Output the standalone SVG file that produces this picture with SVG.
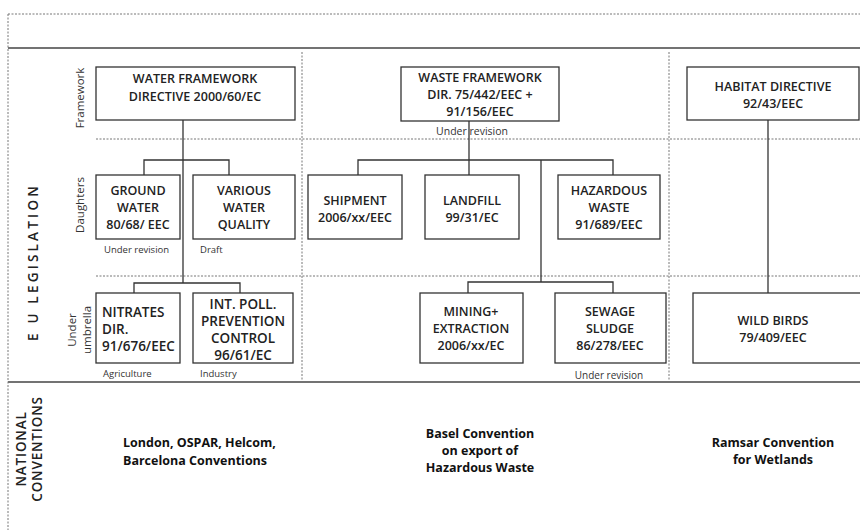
<svg xmlns="http://www.w3.org/2000/svg" width="860" height="531" viewBox="0 0 860 531">
<style>
.bx{fill:#fff;stroke:#333;stroke-width:1.3}
.t{font-family:"Open Sans","Liberation Sans",sans-serif;font-size:12.5px;font-weight:600;fill:#222;text-anchor:middle}
.u{font-family:"Open Sans","Liberation Sans",sans-serif;font-size:13.5px;font-weight:600;fill:#222}
.s{font-family:"Open Sans","Liberation Sans",sans-serif;font-size:9.5px;fill:#333}
.b{font-family:"Open Sans","Liberation Sans",sans-serif;font-size:12.5px;font-weight:700;fill:#111}
.c{stroke:#333;stroke-width:1.3;fill:none}
.dot{stroke:#777;stroke-width:1;stroke-dasharray:2 1.5;fill:none}
.sol{stroke:#444;stroke-width:1.5;fill:none}
.lab{font-family:"Open Sans","Liberation Sans",sans-serif;font-size:11.5px;fill:#333;text-anchor:middle}
.big{font-family:"Open Sans","Liberation Sans",sans-serif;font-size:13.5px;font-weight:600;fill:#222;text-anchor:middle}
</style>
<rect width="860" height="531" fill="#fff"/>
<g id="frame">
<line class="dot" x1="8" y1="14" x2="860" y2="14"/>
<line class="sol" x1="8" y1="48" x2="860" y2="48"/>
<line class="sol" x1="8" y1="382" x2="860" y2="382"/>
<line class="dot" x1="8" y1="14" x2="8" y2="530"/>
<line class="dot" x1="96" y1="139" x2="860" y2="139"/>
<line class="dot" x1="96" y1="276" x2="860" y2="276"/>
<line class="dot" x1="302" y1="52" x2="302" y2="380"/>
<line class="dot" x1="669" y1="52" x2="669" y2="380"/>
<text class="lab" transform="translate(84,98) rotate(-90)">Framework</text>
<text class="lab" transform="translate(84,205) rotate(-90)">Daughters</text>
<text class="lab" transform="translate(76,330) rotate(-90)">Under</text>
<text class="lab" transform="translate(91,330) rotate(-90)">umbrella</text>
<text class="big" transform="translate(38,262) rotate(-90)" style="letter-spacing:3.2px">E U LEGISLATION</text>
<text class="big" transform="translate(26,449) rotate(-90)" style="letter-spacing:0.8px">NATIONAL</text>
<text class="big" transform="translate(42,449) rotate(-90)" style="letter-spacing:0.8px">CONVENTIONS</text>
</g>
<g id="connectors">
<path class="c" d="M183,120 V283"/>
<path class="c" d="M144,175 V160 H229 V175"/>
<path class="c" d="M134,293 V283 H240 V293"/>
<path class="c" d="M469,121 V175"/>
<path class="c" d="M358,175 V160 H613 V175"/>
<path class="c" d="M541,160 V282"/>
<path class="c" d="M468,293 V282 H613 V293"/>
<path class="c" d="M768,120 V293"/>
</g>
<g id="water-framework">
<rect class="bx" x="96" y="67" width="199" height="53"/>
<text class="t" x="195" y="83">WATER FRAMEWORK</text>
<text class="t" x="195" y="101">DIRECTIVE 2000/60/EC</text>
</g>
<g id="ground-water">
<rect class="bx" x="96" y="175" width="84" height="64"/>
<text class="t" x="138" y="195">GROUND</text>
<text class="t" x="138" y="212">WATER</text>
<text class="t" x="138" y="229">80/68/ EEC</text>
<text class="s" x="104" y="253">Under revision</text>
</g>
<g id="various-water">
<rect class="bx" x="193" y="175" width="102" height="64"/>
<text class="t" x="244" y="195">VARIOUS</text>
<text class="t" x="244" y="212">WATER</text>
<text class="t" x="244" y="229">QUALITY</text>
<text class="s" x="200" y="253">Draft</text>
</g>
<g id="nitrates">
<rect class="bx" x="96" y="293" width="84" height="70"/>
<text class="u" x="102" y="317">NITRATES</text>
<text class="u" x="102" y="334">DIR.</text>
<text class="u" x="102" y="351">91/676/EEC</text>
<text class="s" x="103" y="377">Agriculture</text>
</g>
<g id="ippc">
<rect class="bx" x="193" y="293" width="100" height="70"/>
<text class="u" x="243" y="309" text-anchor="middle">INT. POLL.</text>
<text class="u" x="243" y="326" text-anchor="middle">PREVENTION</text>
<text class="u" x="243" y="343" text-anchor="middle">CONTROL</text>
<text class="u" x="243" y="360" text-anchor="middle">96/61/EC</text>
<text class="s" x="200" y="377">Industry</text>
</g>
<g id="waste-framework">
<rect class="bx" x="401" y="67" width="158" height="54"/>
<text class="t" x="480" y="82">WASTE FRAMEWORK</text>
<text class="t" x="480" y="99">DIR. 75/442/EEC +</text>
<text class="t" x="480" y="116">91/156/EEC</text>
<text class="s" x="472" y="135" style="text-anchor:middle;font-size:10.5px">Under revision</text>
</g>
<g id="shipment">
<rect class="bx" x="308" y="175" width="94" height="64"/>
<text class="t" x="355" y="205">SHIPMENT</text>
<text class="t" x="355" y="222">2006/xx/EEC</text>
</g>
<g id="landfill">
<rect class="bx" x="425" y="175" width="94" height="64"/>
<text class="t" x="472" y="205">LANDFILL</text>
<text class="t" x="472" y="222">99/31/EC</text>
</g>
<g id="hazardous">
<rect class="bx" x="558" y="175" width="102" height="64"/>
<text class="t" x="609" y="195">HAZARDOUS</text>
<text class="t" x="609" y="212">WASTE</text>
<text class="t" x="609" y="229">91/689/EEC</text>
</g>
<g id="mining">
<rect class="bx" x="420" y="293" width="103" height="70"/>
<text class="t" x="471" y="316">MINING+</text>
<text class="t" x="471" y="333">EXTRACTION</text>
<text class="t" x="471" y="350">2006/xx/EC</text>
</g>
<g id="sewage">
<rect class="bx" x="555" y="293" width="111" height="70"/>
<text class="t" x="610" y="316">SEWAGE</text>
<text class="t" x="610" y="333">SLUDGE</text>
<text class="t" x="610" y="350">86/278/EEC</text>
<text class="s" x="609" y="379" style="text-anchor:middle;font-size:10px">Under revision</text>
</g>
<g id="habitat">
<rect class="bx" x="687" y="67" width="172" height="53"/>
<text class="t" x="773" y="91">HABITAT DIRECTIVE</text>
<text class="t" x="773" y="108">92/43/EEC</text>
</g>
<g id="wild-birds">
<rect class="bx" x="693" y="293" width="170" height="70"/>
<text class="t" x="773" y="325">WILD BIRDS</text>
<text class="t" x="773" y="342">79/409/EEC</text>
</g>
<g id="conventions">
<text class="b" x="123" y="447">London, OSPAR, Helcom,</text>
<text class="b" x="123" y="465">Barcelona Conventions</text>
<text class="b" x="480" y="438" text-anchor="middle">Basel Convention</text>
<text class="b" x="480" y="455" text-anchor="middle">on export of</text>
<text class="b" x="480" y="472" text-anchor="middle">Hazardous Waste</text>
<text class="b" x="773" y="447" text-anchor="middle">Ramsar Convention</text>
<text class="b" x="773" y="464" text-anchor="middle">for Wetlands</text>
</g>
</svg>
